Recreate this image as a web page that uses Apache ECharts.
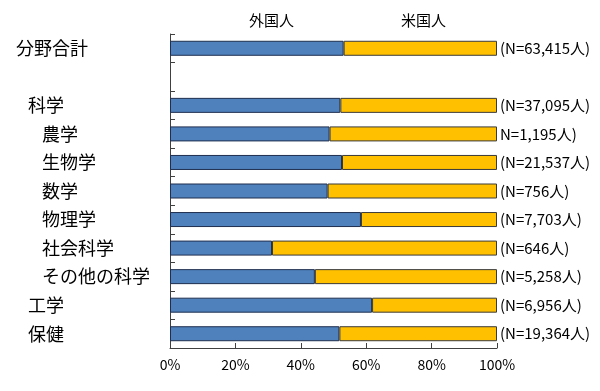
<!DOCTYPE html>
<html><head><meta charset="utf-8">
<script src="https://cdn.jsdelivr.net/npm/echarts@6/dist/echarts.min.js"></script>
<style>html,body{margin:0;padding:0;background:#fff}#c{width:600px;height:391px}</style>
</head><body><div id="c"></div>
<script>
const categories = ['分野合計', '', '科学', '農学', '生物学', '数学', '物理学', '社会科学', 'その他の科学', '工学', '保健'];
const indentLevel = [0, 0, 1, 2, 2, 2, 2, 2, 2, 1, 1];
const foreignShare = [53.1, null, 52.1, 48.8, 52.6, 48.2, 58.4, 31.2, 44.3, 61.8, 51.8];
const usShare = [46.9, null, 47.9, 51.2, 47.4, 51.8, 41.6, 68.8, 55.7, 38.2, 48.2];
const nLabels = ['(N=63,415人)', '', '(N=37,095人)', 'N=1,195人)', '(N=21,537人)', '(N=756人)', '(N=7,703人)', '(N=646人)', '(N=5,258人)', '(N=6,956人)', '(N=19,364人)'];
const xTicks = [0, 20, 40, 60, 80, 100];

const FONT = '"Noto Sans CJK JP", "Noto Sans", sans-serif';
const chart = echarts.init(document.getElementById('c'));
chart.setOption({
  animation: false,
  textStyle: { fontFamily: FONT, color: '#000' },
  grid: { left: 170, right: 103, top: 34, bottom: 43 },
  legend: [
    { left: 239, top: 8, icon: 'none', itemWidth: 0, itemGap: 0, data: ['外国人'],
      textStyle: { fontSize: 15, color: '#000', fontFamily: FONT } },
    { left: 391, top: 8, icon: 'none', itemWidth: 0, itemGap: 0, data: ['米国人'],
      textStyle: { fontSize: 15, color: '#000', fontFamily: FONT } }
  ],
  xAxis: {
    type: 'value', min: xTicks[0], max: xTicks[xTicks.length - 1], interval: 20,
    axisLine: { show: true, lineStyle: { color: '#404040', width: 1 } },
    axisTick: { show: true, inside: true, length: 5, lineStyle: { color: '#404040' } },
    splitLine: { show: false },
    axisLabel: { formatter: '{value}%', fontSize: 14, color: '#000', margin: 10, fontFamily: FONT }
  },
  yAxis: {
    type: 'category', inverse: true, data: categories,
    axisLine: { show: true, lineStyle: { color: '#404040', width: 1 } },
    axisTick: { show: true, inside: true, length: 5, lineStyle: { color: '#404040' } },
    axisLabel: {
      align: 'left', margin: 154, fontSize: 18, color: '#000', fontFamily: FONT,
      formatter: (v, i) => v ? '{l' + indentLevel[i] + '|' + v + '}' : '',
      rich: {
        l0: { fontSize: 18, fontFamily: FONT, padding: [0, 0, 0, 0] },
        l1: { fontSize: 18, fontFamily: FONT, padding: [0, 0, 0, 12] },
        l2: { fontSize: 18, fontFamily: FONT, padding: [0, 0, 0, 26] }
      }
    }
  },
  series: [
    { name: '外国人', type: 'bar', stack: 'a', barWidth: 15, data: foreignShare,
      itemStyle: { color: '#4f81bd', borderColor: '#1f2f4f', borderWidth: 1 } },
    { name: '米国人', type: 'bar', stack: 'a', barWidth: 15, data: usShare,
      itemStyle: { color: '#ffc000', borderColor: '#3a3a3a', borderWidth: 1 },
      label: { show: true, position: 'right', distance: 3, fontSize: 15, color: '#000', fontFamily: FONT,
        formatter: p => nLabels[p.dataIndex] } }
  ]
});
</script></body></html>
